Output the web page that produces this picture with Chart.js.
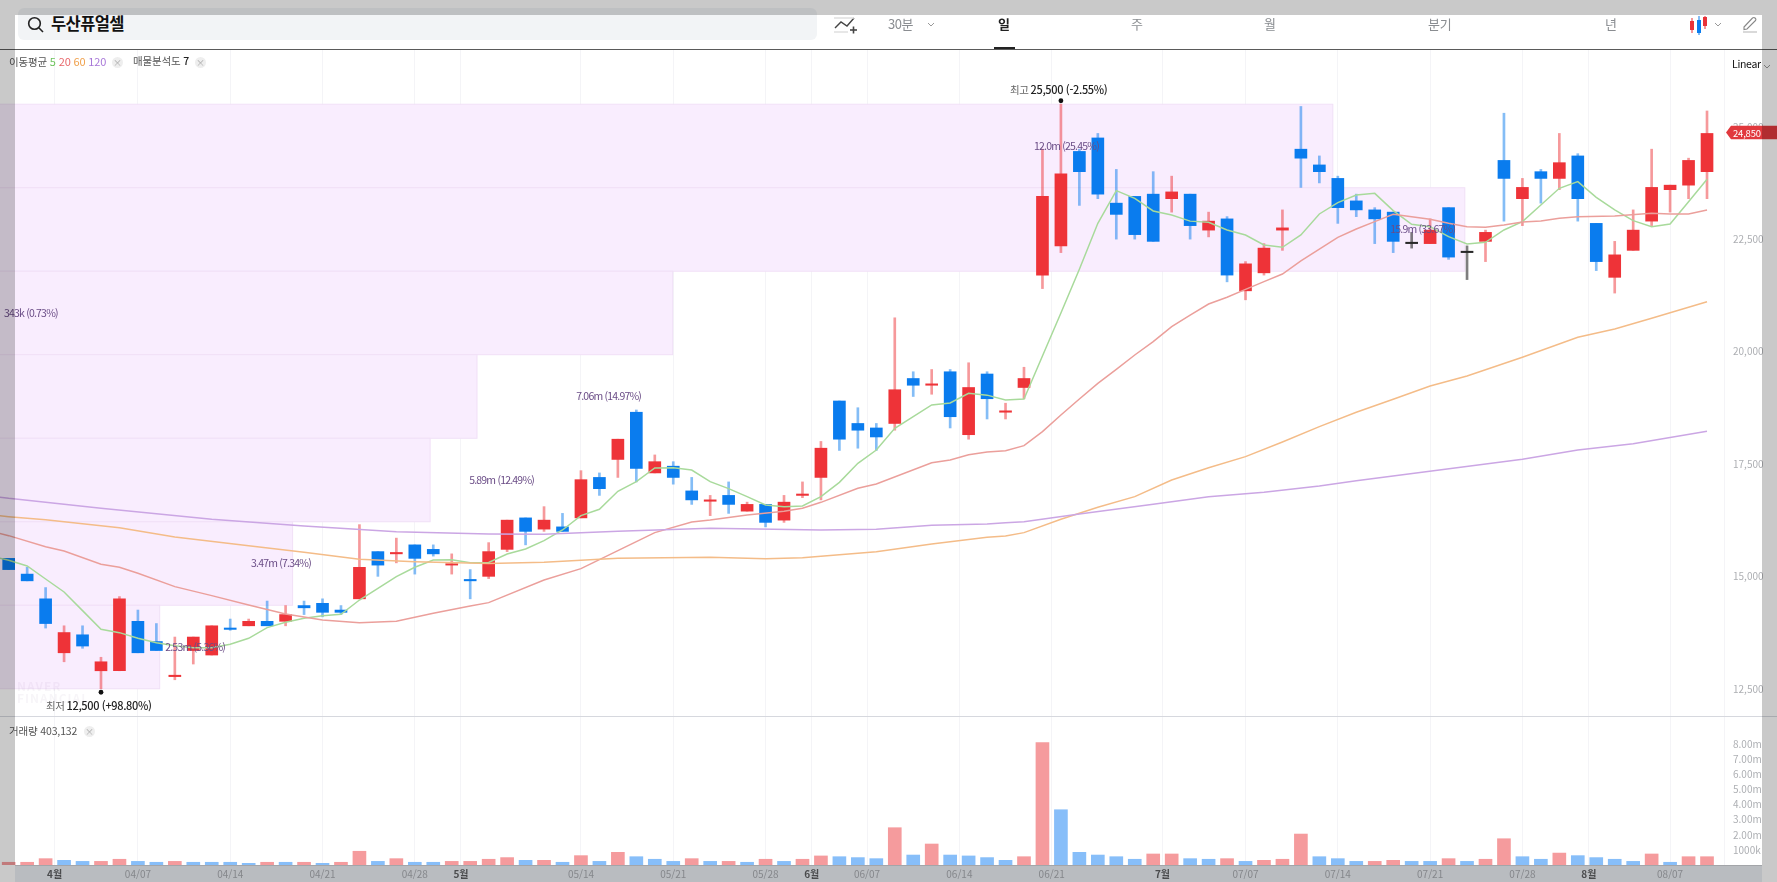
<!DOCTYPE html>
<html lang="ko">
<head>
<meta charset="utf-8">
<title>두산퓨얼셀</title>
<script src="https://cdn.jsdelivr.net/npm/chart.js@4/dist/chart.umd.min.js"></script>
<style>
  html, body { margin: 0; padding: 0; background: #fff; }
  body { width: 1777px; height: 882px; overflow: hidden; position: relative; font-family: "Noto Sans CJK KR", "Noto Sans", sans-serif; }
  #page { position: absolute; left: 0; top: 0; width: 1777px; height: 882px; filter: blur(0.5px); }
  canvas { position: absolute; left: 0; z-index: 1; }
  .abs { position: absolute; white-space: nowrap; line-height: 1; }
  .tab { font-size: 13px; color: #8a8d91; top: 17px; }
  .legend { font-size: 10.5px; color: #555; letter-spacing: -0.15px; }
  .legend span { font-size: 11px; letter-spacing: -0.1px; }
  .closeBtn { position: absolute; width: 11px; height: 11px; border-radius: 50%; background: #eeeeee; color: #aaa; font-size: 9px; line-height: 11px; text-align: center; }
  .shade { position: absolute; background: rgba(0, 0, 0, 0.21); z-index: 5; }
</style>
</head>
<body>
<div id="page">
  <!-- top bar -->
  <div class="abs" style="left:18px;top:8px;width:799px;height:32px;background:#f2f4f6;border-radius:6px"></div>
  <svg class="abs" style="left:27px;top:16px" width="18" height="17" viewBox="0 0 18 17" fill="none" stroke="#222" stroke-width="1.6">
    <circle cx="7.5" cy="7.5" r="5.8"/><line x1="11.8" y1="11.8" x2="16" y2="16"/>
  </svg>
  <div class="abs" style="left:51px;top:15px;font-size:16.5px;font-weight:700;color:#111;letter-spacing:-0.6px">두산퓨얼셀</div>
  <svg class="abs" style="left:834px;top:15px" width="24" height="20" viewBox="0 0 24 20" fill="none" stroke="#444" stroke-width="1.4">
    <polyline points="1,13 7,7 13,11 20,3"/><line x1="0" y1="3" x2="20" y2="3" stroke="#ddd"/><line x1="0" y1="17" x2="14" y2="17" stroke="#ddd"/>
    <line x1="16" y1="15" x2="23" y2="15" stroke-width="1.6"/><line x1="19.5" y1="11.5" x2="19.5" y2="18.5" stroke-width="1.6"/>
  </svg>
  <div class="abs tab" style="left:888px;letter-spacing:-0.5px">30분</div>
  <svg class="abs" style="left:927px;top:22px" width="8" height="6" viewBox="0 0 8 6" fill="none" stroke="#999"><polyline points="1,1 4,4 7,1"/></svg>
  <div class="abs tab" style="left:998px;color:#222;font-weight:700">일</div>
  <div class="abs" style="left:994px;top:47px;width:21px;height:3px;background:#222"></div>
  <div class="abs tab" style="left:1131px">주</div>
  <div class="abs tab" style="left:1264px">월</div>
  <div class="abs tab" style="left:1428px;letter-spacing:-0.3px">분기</div>
  <div class="abs tab" style="left:1605px">년</div>
  <svg class="abs" style="left:1689px;top:15px" width="20" height="20" viewBox="0 0 20 20">
    <rect x="1" y="6" width="4" height="9" fill="#e8333a"/><rect x="2.5" y="3" width="1" height="15" fill="#e8333a"/>
    <rect x="8" y="5" width="4" height="13" fill="#0a7cee"/><rect x="9.5" y="1" width="1" height="19" fill="#0a7cee"/>
    <rect x="14" y="2" width="4" height="9" fill="#e8333a"/><rect x="15.5" y="1" width="1" height="13" fill="#e8333a"/>
  </svg>
  <svg class="abs" style="left:1714px;top:22px" width="8" height="6" viewBox="0 0 8 6" fill="none" stroke="#999"><polyline points="1,1 4,4 7,1"/></svg>
  <svg class="abs" style="left:1742px;top:16px" width="16" height="17" viewBox="0 0 16 17" fill="none" stroke="#888" stroke-width="1.1">
    <path d="M2 11 L10.5 2 Q12 1 13 2 Q14.5 3.5 13.5 4.5 L5 13 L2 13.5 Z"/><line x1="1" y1="16" x2="15" y2="16" stroke="#bbb"/>
  </svg>
  <div class="abs" style="left:0;top:49px;width:1777px;height:1.4px;background:#5a5a5a;z-index:2"></div>

  <!-- pane separator and date band -->
  <div class="abs" style="left:0;top:715.5px;width:1777px;height:1px;background:#d6d8de;z-index:2"></div>
  <div class="abs" style="left:15px;top:865px;width:1747px;height:17px;background:#b9bcc0;border-top:1px solid #a3a5a9;box-sizing:border-box"></div>

  <canvas id="Price_Chart" style="top:50px" width="1777" height="666"></canvas>
  <canvas id="Volume_Chart" style="top:716px" width="1777" height="166"></canvas>

  <!-- legends -->
  <div class="abs legend" style="left:9px;top:56px;z-index:3">이동평균 <span style="color:#6cc35c">5</span> <span style="color:#e8666a">20</span> <span style="color:#f0a04b">60</span> <span style="color:#a878d8">120</span></div>
  <div class="closeBtn" style="left:112px;top:57px;z-index:3">×</div>
  <div class="abs legend" style="left:133px;top:56px;z-index:3">매물분석도 <b style="color:#222;font-weight:500">7</b></div>
  <div class="closeBtn" style="left:195px;top:57px;z-index:3">×</div>
  <div class="abs legend" style="left:9px;top:726px;z-index:3">거래량 403,132</div>
  <div class="closeBtn" style="left:84px;top:726px;z-index:3">×</div>
  <div class="abs" style="left:1732px;top:59px;font-size:10.5px;color:#111;letter-spacing:-0.3px;z-index:3">Linear</div>
  <svg class="abs" style="left:1763px;top:64px;z-index:3" width="8" height="6" viewBox="0 0 8 6" fill="none" stroke="#999"><polyline points="1,1 4,4 7,1"/></svg>
  <div class="abs" style="left:17px;top:680px;font-size:12px;line-height:12px;font-weight:700;color:rgba(90,60,110,0.05);z-index:3;letter-spacing:1px">NAVER<br>FINANCIAL</div>

  <!-- screenshot frame -->
  <div class="shade" style="left:0;top:0;width:1777px;height:15px"></div>
  <div class="shade" style="left:0;top:15px;width:15px;height:867px"></div>
  <div class="shade" style="left:1762px;top:15px;width:15px;height:867px"></div>
</div>

<script>
// Daily candles, index 0 to 92
let opens = [15400,15050,14500,13300,13700,12900,12900,14000,13550,12770,
  13350,13250,13850,13900,14000,14000,14350,14400,14250,14500,
  15550,15500,15700,15600,15250,14930,15000,15600,16300,16050,
  16100,16300,17200,17600,18650,17300,17450,16900,16670,16800,
  16450,16600,16250,16800,17200,18900,18400,18300,18400,19400,
  19250,19550,18150,19500,18650,19200,21700,22350,24450,24750,
  23300,23450,23500,23400,23500,22700,22950,21350,21750,22700,
  24500,24150,23850,23350,23150,23100,22400,22400,23200,22200,
  22450,24250,23400,24000,23850,24350,22850,21650,22250,22900,
  23600,23700,24000];
let closes = [15150,14900,13950,13750,13450,13100,14500,13300,13350,12800,
  13650,13900,13820,14000,13900,14150,14300,14200,14200,15200,
  15250,15530,15400,15500,15280,14900,15550,16250,16000,16250,
  16000,17150,16950,18050,17400,17550,17200,16700,16700,16600,
  16600,16200,16650,16820,17850,18050,18250,18100,19150,19250,
  19280,18550,19200,18950,18680,19400,23450,23950,24000,23500,
  23050,22600,22450,23550,22800,22900,21700,21950,22300,22750,
  24300,24000,23200,23150,22950,22450,22400,22700,22100,22200,
  22650,23850,23650,23850,24200,23400,22000,22150,22700,23650,
  23700,24250,24850];
let highs = [15400,15200,14750,13900,13900,13200,14550,14250,13950,13650,
  13650,13900,14050,14050,14450,14350,14450,14500,14350,16150,
  15550,15850,15700,15700,15500,15150,15750,16250,16300,16550,
  16400,17350,17300,18050,18700,17700,17550,17200,16800,17100,
  16650,16600,16800,17100,18000,18900,18750,18400,20750,19550,
  19600,19600,19750,19550,18850,19650,24500,25500,24500,24850,
  24050,23450,24000,23900,23500,23100,23000,22000,22400,23150,
  25450,24350,23900,23500,23200,23100,22650,22950,23200,22350,
  22700,25300,23850,24050,24850,24400,22850,22450,23150,24500,
  23700,24300,25350];
let lows = [15150,14900,13850,13100,13400,12500,12900,13300,13350,12700,
  13050,13250,13800,13900,13900,13900,14150,14100,14150,14500,
  15000,15300,15050,15450,15050,14500,14950,15550,15700,16000,
  16000,16300,16800,17200,17100,17300,17050,16600,16350,16400,
  16450,16100,16200,16750,16700,17800,17850,17800,18250,19000,
  19050,18300,18050,18500,18500,18950,21400,22200,23250,23400,
  22500,22500,22450,23100,22500,22550,21550,21150,21700,22250,
  23650,23750,22850,23000,22400,22200,22300,22400,22050,21600,
  22000,22900,22800,23300,23600,22900,21800,21300,22250,22800,
  23100,23400,23400];

// Volume in millions, and whether the bar is red (true) or blue (false)
let volumes = [0.18,0.18,0.42,0.31,0.24,0.24,0.38,0.24,0.18,0.24,
  0.18,0.18,0.18,0.11,0.18,0.18,0.18,0.11,0.18,0.91,
  0.24,0.42,0.18,0.18,0.24,0.24,0.38,0.49,0.31,0.31,
  0.18,0.62,0.24,0.84,0.55,0.38,0.24,0.42,0.24,0.24,
  0.18,0.38,0.24,0.38,0.60,0.55,0.49,0.42,2.47,0.66,
  1.39,0.66,0.60,0.49,0.31,0.55,8.10,3.66,0.84,0.66,
  0.55,0.38,0.73,0.73,0.42,0.38,0.42,0.24,0.31,0.38,
  2.05,0.55,0.42,0.24,0.24,0.31,0.24,0.24,0.42,0.24,
  0.38,1.74,0.55,0.38,0.79,0.62,0.49,0.38,0.24,0.73,
  0.18,0.55,0.55];
let volumeRed = [1,1,1,0,0,1,1,0,0,1,
  0,0,0,0,1,0,1,0,1,1,
  0,1,0,0,1,1,1,1,0,1,
  0,1,0,1,0,0,0,1,0,1,
  0,1,0,1,1,0,0,0,1,0,
  1,0,0,0,0,1,1,0,0,0,
  0,0,1,1,0,0,1,0,1,1,
  1,0,0,0,1,1,0,0,1,0,
  1,1,0,0,1,0,0,0,0,1,
  0,1,1];

// Moving averages, MA5 starts at index -1
let ma5Values = [15453,15356,15230,14941,14652,14237,13822,13748,13622,13525,13459,
  13414,13414,13488,13622,13859,13978,14067,14126,14155,14474,
  14734,14993,15201,15364,15371,15305,15310,15497,15608,15794,
  16031,16350,16491,16891,17106,17410,17417,17365,17106,16950,
  16772,16587,16550,16565,16772,17091,17514,17810,18292,18551,
  18811,18855,19070,19030,18922,18944,19900,20857,21828,22851,
  23578,23407,23126,23037,22900,22874,22703,22592,22369,22318,
  22592,23059,23311,23481,23518,23133,22829,22777,22555,22392,
  22429,22703,22888,23259,23630,23778,23430,23148,22911,22777,
  22836,23333,23830];
let ma20Index = [-1,0,2,3,5,6,7,9,11,13,15,17,19,21,23,25,26,29,31,33,35,37,38,40,42,43,44,46,47,50,51,52,53,54,55,
  56,57,58,59,60,61,62,63,64,65,66,67,68,69,70,71,72,73,74,75,76,77,78,79,80,81,82,83,84,85,87,89,90,91,92];
let ma20Values = [16010,15905,15660,15564,15268,15201,15067,14771,14571,14363,14163,14030,13970,14000,14178,14341,14415,14919,15171,15571,15972,16209,16253,16365,16446,16513,16646,16958,17054,17528,17588,17706,17766,17795,17906,
  18218,18588,18944,19293,19604,19923,20219,20553,20812,21057,21206,21383,21554,21724,22014,22280,22540,22725,22888,23051,22999,22940,22851,22777,22762,22814,22880,22903,22962,22999,23014,23074,23059,23059,23148];
let ma60Index = [-1,0,2,6,9,13,16,19,22,26,29,33,38,41,43,47,50,53,54,55,57,59,61,63,65,67,69,71,73,75,77,79,82,85,87,89,92];
let ma60Values = [16370,16328,16261,16083,15875,15683,15534,15379,15327,15285,15312,15401,15423,15394,15416,15549,15720,15868,15897,15972,16268,16535,16772,17143,17417,17662,17988,18329,18648,18937,19233,19456,19871,20316,20501,20738,21109];
let ma120Index = [-1,0,5,11,16,21,26,29,33,38,44,47,50,53,54,55,58,62,65,68,71,73,82,85,88,92];
let ma120Values = [16790,16735,16513,16268,16120,15994,15942,15935,16001,16068,16031,16046,16135,16164,16194,16216,16387,16602,16772,16869,17010,17128,17602,17810,17951,18225];

// Price profile: band limits from top to bottom, where each band ends on the date axis, and its label
let profilePrices = [25500,23643,21786,19929,18071,16214,14357,12500];
let profileEnds = [71.73,78.88,35.97,25.37,22.83,15.38,8.18];
let profileLabels = ["12.0m (25.45%)","15.9m (33.67%)","343k (0.73%)","7.06m (14.97%)","5.89m (12.49%)","3.47m (7.34%)","2.53m (5.36%)"];
let profileLabelAt = [57.3,76.6,1.2,32.5,26.7,14.75,10.1];

// Axes
let dateTickIndex = [2.49,7,12,17,22,24.5,31,36,41,43.5,46.5,51.5,56.5,62.5,67,72,77,82,85.6,90,92.92];
let dateTickLabels = ["4월","04/07","04/14","04/21","04/28","5월","05/14","05/21","05/28","6월","06/07","06/14","06/21","7월","07/07","07/14","07/21","07/28","8월","08/07",""];
let priceTicks = [12500,15000,17500,20000,22500,25000];
let volumeTicks = [1,2,3,4,5,6,7,8];
let volumeTickLabels = ["1000k","2.00m","3.00m","4.00m","5.00m","6.00m","7.00m","8.00m"];

let lastPriceLabel = "24,850";
let highLabel = ["최고 ", "25,500 (-2.55%)"];
let lowLabel = ["최저 ", "12,500 (+98.80%)"];

const FONT = '"Noto Sans CJK KR", "Noto Sans", sans-serif';

function candleColor(i, alpha) {
  let rgb = closes[i] > opens[i] ? '238,51,56' : (closes[i] < opens[i] ? '10,124,238' : '40,40,40');
  return `rgba(${rgb},${alpha})`;
}

function maLine(label, xs, ys, color) {
  return {
    type: 'line', label: label, order: 1,
    data: xs.map((x, i) => ({ x: x, y: ys[i] })),
    borderColor: color, borderWidth: 1.5, pointRadius: 0, tension: 0, fill: false
  };
}

// Same date axis for both panes, the ticks are real dates so they are not evenly spaced
function dateAxis(showLabels, height) {
  return {
    type: 'linear', min: -0.471, max: 92.92, offset: false,
    border: { display: false },
    grid: { color: '#f4f4f7', lineWidth: 1, drawTicks: false, offset: false },
    afterBuildTicks: s => { s.ticks = dateTickIndex.map(v => ({ value: v })); },
    afterFit: s => { s.height = height; s.paddingLeft = 0; s.paddingRight = 0; },
    ticks: {
      display: showLabels, autoSkip: false, maxRotation: 0, padding: 3,
      color: c => dateTickLabels[c.index] && dateTickLabels[c.index].endsWith('월') ? '#4a4b4d' : '#85878b',
      font: c => ({ family: FONT, size: 10, weight: dateTickLabels[c.index] && dateTickLabels[c.index].endsWith('월') ? '700' : '400' }),
      callback: (v, i) => dateTickLabels[i]
    }
  };
}

function valueAxis(min, max, tickValues, format) {
  return {
    type: 'linear', position: 'right', min: min, max: max,
    border: { display: false },
    grid: { display: false, drawTicks: false },
    afterBuildTicks: s => { s.ticks = tickValues.map(v => ({ value: v })); },
    afterFit: s => { s.width = 53; s.paddingTop = 0; s.paddingBottom = 0; },
    ticks: { padding: 9, color: '#adafb3', font: { family: FONT, size: 10 }, callback: format }
  };
}

// Purple bands behind the candles
let profilePlugin = {
  id: 'profile',
  beforeDatasetsDraw(chart) {
    let ctx = chart.ctx, x = chart.scales.x, y = chart.scales.y;
    ctx.save();
    ctx.fillStyle = '#f9edfe';
    ctx.strokeStyle = '#f1e0f7';
    ctx.lineWidth = 1;
    profileEnds.forEach((end, i) => {
      let top = y.getPixelForValue(profilePrices[i]);
      let bottom = y.getPixelForValue(profilePrices[i + 1]);
      let right = x.getPixelForValue(end);
      ctx.fillRect(-2, top, right + 2, bottom - top);
      ctx.strokeRect(-2, top, right + 2, bottom - top);
    });
    ctx.restore();
  },
  afterDatasetsDraw(chart) {
    let ctx = chart.ctx, x = chart.scales.x, y = chart.scales.y;
    ctx.save();
    ctx.font = '10.5px ' + FONT;
    ctx.letterSpacing = '-0.8px';
    ctx.fillStyle = '#6a4c86';
    ctx.textAlign = 'center';
    ctx.textBaseline = 'middle';
    profileLabels.forEach((text, i) => {
      let mid = (profilePrices[i] + profilePrices[i + 1]) / 2;
      ctx.fillText(text, x.getPixelForValue(profileLabelAt[i]), y.getPixelForValue(mid));
    });
    ctx.restore();
  }
};

// Highest and lowest price markers plus the red tag of the last price
function drawMarker(ctx, px, dotY, textY, parts) {
  ctx.fillStyle = '#111';
  ctx.beginPath();
  ctx.arc(px, dotY, 2.4, 0, Math.PI * 2);
  ctx.fill();
  ctx.textBaseline = 'middle';
  ctx.textAlign = 'left';
  ctx.font = '10.5px ' + FONT;
  let w0 = ctx.measureText(parts[0]).width;
  ctx.font = '500 11px ' + FONT;
  let w1 = ctx.measureText(parts[1]).width;
  let start = px - (w0 + w1) / 2 - 2.3;
  ctx.font = '10.5px ' + FONT;
  ctx.fillStyle = '#666';
  ctx.fillText(parts[0], start, textY);
  ctx.font = '500 11px ' + FONT;
  ctx.fillStyle = '#222';
  ctx.fillText(parts[1], start + w0, textY);
}

let markerPlugin = {
  id: 'markers',
  afterDraw(chart) {
    let ctx = chart.ctx, x = chart.scales.x, y = chart.scales.y;
    let hi = highs.indexOf(Math.max(...highs));
    let lo = lows.indexOf(Math.min(...lows));
    ctx.save();
    ctx.letterSpacing = '-0.35px';
    let hiY = y.getPixelForValue(highs[hi]);
    let loY = y.getPixelForValue(lows[lo]);
    drawMarker(ctx, x.getPixelForValue(hi), hiY - 3.5, hiY - 14.5, highLabel);
    drawMarker(ctx, x.getPixelForValue(lo), loY + 3.5, loY + 17, lowLabel);

    let tagY = y.getPixelForValue(closes[closes.length - 1]) - 1;
    let left = chart.chartArea.right + 2;
    ctx.fillStyle = '#e1383d';
    ctx.beginPath();
    ctx.moveTo(left, tagY);
    ctx.lineTo(left + 5, tagY - 6.8);
    ctx.lineTo(1777, tagY - 6.8);
    ctx.lineTo(1777, tagY + 6.8);
    ctx.lineTo(left + 5, tagY + 6.8);
    ctx.closePath();
    ctx.fill();
    ctx.fillStyle = '#fff';
    ctx.font = '9.5px ' + FONT;
    ctx.letterSpacing = '-0.2px';
    ctx.fillText(lastPriceLabel, left + 7, tagY + 0.5);
    ctx.restore();
  }
};

function renderPriceChart() {
  let xs = opens.map((o, i) => i);
  let config = {
    type: 'bar',
    data: {
      datasets: [
        {
          label: '고저', order: 4, grouped: false, barThickness: 2,
          data: xs.map(i => ({ x: i, y: [lows[i], highs[i]] })),
          backgroundColor: xs.map(i => candleColor(i, closes[i] === opens[i] ? 0.6 : 0.5))
        },
        {
          label: '시가/종가', order: 3, grouped: false, barThickness: 12, minBarLength: 1.4,
          data: xs.map(i => ({ x: i, y: [Math.min(opens[i], closes[i]), Math.max(opens[i], closes[i])] })),
          backgroundColor: xs.map(i => candleColor(i, 1))
        },
        maLine('120', ma120Index, ma120Values, '#cba6e4'),
        maLine('60', ma60Index, ma60Values, '#f4bc88'),
        maLine('20', ma20Index, ma20Values, '#eb9f9b'),
        maLine('5', opens.concat([0]).map((o, i) => i - 1), ma5Values, '#a8da9b')
      ]
    },
    options: {
      responsive: false, animation: false, devicePixelRatio: 1,
      layout: { padding: 0 },
      plugins: { legend: { display: false }, tooltip: { enabled: false } },
      scales: {
        x: dateAxis(false, 0),
        y: valueAxis(11894, 26706, priceTicks, v => v.toLocaleString('en-US'))
      }
    },
    plugins: [profilePlugin, markerPlugin]
  };
  new Chart(document.getElementById("Price_Chart"), config);
}

function renderVolumeChart() {
  let config = {
    type: 'bar',
    data: {
      datasets: [{
        label: '거래량', barThickness: 13,
        data: volumes.map((v, i) => ({ x: i, y: v })),
        backgroundColor: volumeRed.map(r => r ? '#f59b9d' : '#87bef9')
      }]
    },
    options: {
      responsive: false, animation: false, devicePixelRatio: 1,
      layout: { padding: 0 },
      plugins: { legend: { display: false }, tooltip: { enabled: false } },
      scales: {
        x: dateAxis(true, 17),
        y: valueAxis(0, 9.868, volumeTicks, (v, i) => volumeTickLabels[i])
      }
    }
  };
  new Chart(document.getElementById("Volume_Chart"), config);
}

renderPriceChart();
renderVolumeChart();
</script>
</body>
</html>
